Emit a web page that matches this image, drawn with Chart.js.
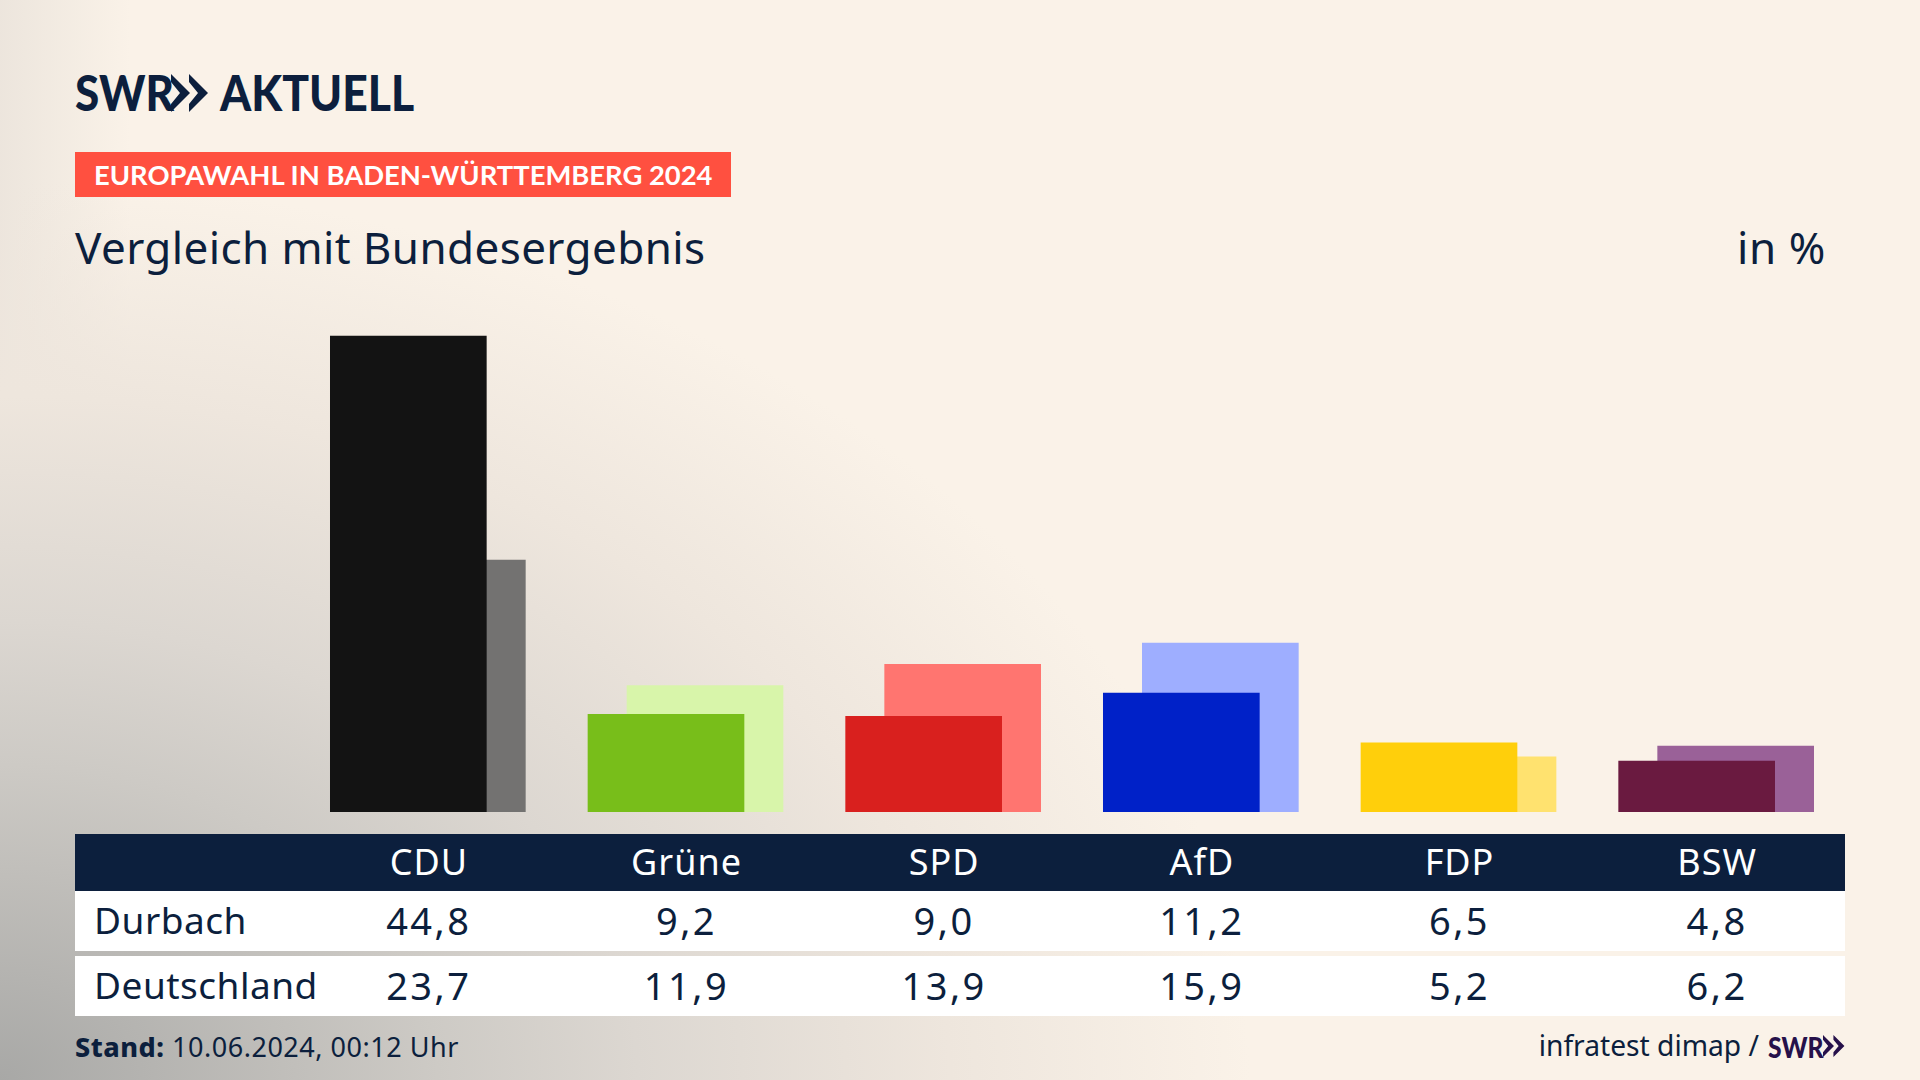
<!DOCTYPE html>
<html lang="de"><head><meta charset="utf-8">
<script src="https://cdn.jsdelivr.net/npm/chart.js@4"></script>
<style>
html,body{margin:0;padding:0;width:1920px;height:1080px;overflow:hidden}
body{position:relative;font-family:"Noto Sans",sans-serif;color:#0c1f3d;
 background:radial-gradient(ellipse 1250px 900px at 0% 100%,#a8a8a6 0%,#cdcac5 35%,#dcd7d1 51%,#eee6dd 76%,rgba(250,242,232,0) 100%),linear-gradient(90deg,rgba(205,200,195,.3),rgba(205,200,195,0) 130px),#faf2e8}
.t{position:absolute;white-space:nowrap;line-height:1}
#wrap{position:absolute;left:299.3px;top:280px;width:1546px;height:532px}
.band{position:absolute;left:75px;width:1770px}
.cell{position:absolute;transform:translateX(-50%);white-space:nowrap;line-height:1}
.logo{font-family:Lato,sans-serif;font-weight:900;transform-origin:0 0}
</style></head><body>
<div class="t logo" style="left:75px;top:67px;font-size:50px;transform:scaleX(.88)">SWR</div>
<svg style="position:absolute;left:171px;top:74px" width="38" height="38" viewBox="0 0 38 38"><path fill="#0c1f3d" d="M0 0 L19 19 L0 38 L0 30 L9 19 L0 8Z M18 0 L37 19 L18 38 L18 30 L27 19 L18 8Z"/></svg>
<div class="t logo" style="left:220px;top:67px;font-size:50px;transform:scaleX(.89)">AKTUELL</div>
<div style="position:absolute;left:75px;top:152px;width:656px;height:45px;background:#ff5040"></div>
<div class="t" style="left:94px;top:161px;font-family:Lato,sans-serif;font-size:27.4px;font-weight:700;color:#fff">EUROPAWAHL IN BADEN-WÜRTTEMBERG 2024</div>
<div class="t" style="left:75px;top:225px;font-size:44px;letter-spacing:.4px">Vergleich mit Bundesergebnis</div>
<div class="t" style="right:94px;top:225px;font-size:44px;letter-spacing:.6px">in %</div>
<div id="wrap"><canvas id="c"></canvas></div>
<div class="band" style="top:834px;height:57px;background:#0c1f3d"></div>
<div class="band" style="top:891px;height:60px;background:#fff"></div>
<div class="band" style="top:956px;height:60px;background:#fff"></div>
<div id="cells"></div>
<div class="t" style="left:75px;top:1033px;font-size:27px;letter-spacing:.52px"><b style="font-weight:800">Stand:</b> 10.06.2024, 00:12 Uhr</div>
<div class="t" style="right:161px;top:1031px;font-size:28.2px">infratest dimap /</div>
<div class="t logo" style="left:1768px;top:1033px;font-size:28px;color:#26114a;transform:scaleX(.88)">SWR</div>
<svg style="position:absolute;left:1823px;top:1035px" width="22" height="22" viewBox="0 0 38 38"><path fill="#26114a" d="M0 0 L19 19 L0 38 L0 30 L9 19 L0 8Z M18 0 L37 19 L18 38 L18 30 L27 19 L18 8Z"/></svg>
<script>
const parties = ["CDU","Grüne","SPD","AfD","FDP","BSW"];
const durbach = [44.8,9.2,9.0,11.2,6.5,4.8];
const deutschland = [23.7,11.9,13.9,15.9,5.2,6.2];
const frontColors = ["#131313","#78be1a","#d9201e","#0021c8","#ffcf0b","#6a1a40"];
const backColors = ["#737271","#d8f5aa","#ff7570","#9eaeff","#ffe26f","#9a6198"];
const rowNames = ["Durbach","Deutschland"];
const shift = 0.0757;
const fmt = v => v.toFixed(1).replace(".",",");

Chart.defaults.animation = false;
const chart = new Chart(document.getElementById("c"),{
  type:"bar",
  data:{datasets:[
    {label:rowNames[0],data:durbach.map((v,i)=>({x:i-shift,y:v})),backgroundColor:frontColors,order:0,barThickness:156,grouped:false},
    {label:rowNames[1],data:deutschland.map((v,i)=>({x:i+shift,y:v})),backgroundColor:backColors,order:1,barThickness:156,grouped:false}
  ]},
  options:{responsive:true,maintainAspectRatio:false,layout:{padding:0},
    plugins:{legend:{display:false},tooltip:{enabled:false}},
    scales:{
      x:{type:"linear",min:-0.5,max:5.5,offset:false,display:false},
      y:{min:0,max:50.07,display:false}
    }}
});

const host = document.getElementById("cells");
const left = 299;
function cell(text,x,y,size,color,ls){
  const d=document.createElement("div");d.className="cell";d.textContent=text;
  d.style.cssText=`left:${x+1}px;top:${y}px;font-size:${size}px;color:${color};letter-spacing:${ls}px`;host.appendChild(d);
}
parties.forEach((p,i)=>{
  const x=left+chart.scales.x.getPixelForValue(i);
  cell(p,x,844,36,"#fff",1);
  cell(fmt(durbach[i]),x,901,38,"#0c1f3d",2.5);
  cell(fmt(deutschland[i]),x,966,38,"#0c1f3d",2.5);
});
rowNames.forEach((n,r)=>{
  const d=document.createElement("div");d.className="t";d.textContent=n;
  d.style.cssText=`left:94px;top:${r?966:901}px;font-size:37px;letter-spacing:.5px`;host.appendChild(d);
});
</script>
</body></html>
